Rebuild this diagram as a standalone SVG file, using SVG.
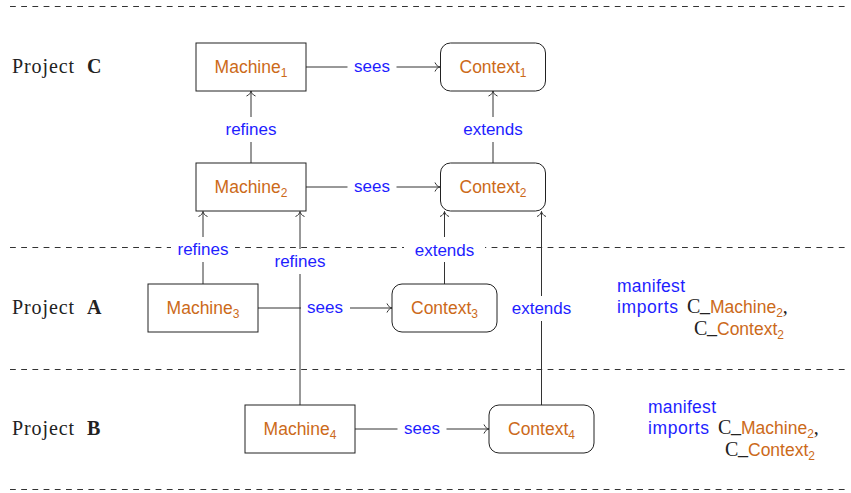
<svg xmlns="http://www.w3.org/2000/svg" width="851" height="493" viewBox="0 0 851 493">
<defs>
<style>
.bg{fill:#fff}
.dash{stroke:#333;stroke-width:1;stroke-dasharray:5.8 5.4;fill:none}
.node{fill:#fff;stroke:#222;stroke-width:1}
.edge{stroke:#333;stroke-width:1;fill:none;marker-end:url(#to)}
.lab{fill:#fff;stroke:none}
.nt{font-family:"Liberation Sans",Arial,sans-serif;font-size:17.5px;fill:#CC6A1A;text-anchor:middle}
.et{font-family:"Liberation Sans",Arial,sans-serif;font-size:17px;fill:#1E1EFF;text-anchor:middle}
.rm{font-family:"Liberation Serif","Times New Roman",serif;font-size:20px;fill:#222}
.bf{font-weight:bold}
.bl{font-family:"Liberation Sans",Arial,sans-serif;font-size:17.5px;fill:#1E1EFF}
.or{font-family:"Liberation Sans",Arial,sans-serif;font-size:17.5px;fill:#CC6A1A}
.sub,.or.sub{font-size:12px}
</style>
<marker id="to" markerUnits="userSpaceOnUse" markerWidth="12" markerHeight="12" viewBox="-6 -6 12 12" refX="0" refY="0" orient="auto">
<path d="M-5,-4.5 C-4,-1.5 -1.5,-0.4 0,0 C-1.5,0.4 -4,1.5 -5,4.5" fill="none" stroke="#333" stroke-width="1"/>
</marker>
</defs>
<rect class="bg" x="0" y="0" width="851" height="493"/>

<g id="separators">
<line class="dash" x1="10" y1="6.5" x2="846" y2="6.5"/>
<line class="dash" x1="10" y1="247.5" x2="846" y2="247.5"/>
<line class="dash" x1="10" y1="369.5" x2="846" y2="369.5"/>
<line class="dash" x1="10" y1="489.5" x2="846" y2="489.5"/>
</g>

<g id="project-labels">
<text class="rm" y="73"><tspan x="12" textLength="62">Project</tspan><tspan class="bf" x="87">C</tspan></text>
<text class="rm" y="314"><tspan x="12" textLength="62">Project</tspan><tspan class="bf" x="87">A</tspan></text>
<text class="rm" y="435"><tspan x="12" textLength="62">Project</tspan><tspan class="bf" x="87">B</tspan></text>
</g>

<g id="connectors">
<line class="edge" x1="306" y1="67" x2="440" y2="67"/>
<line class="edge" x1="306" y1="187" x2="440" y2="187"/>
<line class="edge" x1="251" y1="163" x2="251" y2="91"/>
<line class="edge" x1="493" y1="163" x2="493" y2="91"/>
<line class="edge" x1="203" y1="284" x2="203" y2="211.5"/>
<line class="edge" x1="300" y1="405" x2="300" y2="211.5"/>
<line class="edge" x1="444.5" y1="284" x2="444.5" y2="211.5"/>
<line class="edge" x1="541.5" y1="405" x2="541.5" y2="211.5"/>
<line class="edge" x1="258" y1="308" x2="392" y2="308"/>
<line class="edge" x1="355" y1="429" x2="489" y2="429"/>
<rect class="lab" x="347.5" y="56" width="49" height="22"/>
<text class="et" x="372" y="71.7">sees</text>
<rect class="lab" x="347.5" y="176" width="49" height="22"/>
<text class="et" x="372" y="191.7">sees</text>
<rect class="lab" x="219" y="117" width="64" height="25"/>
<text class="et" x="251" y="135">refines</text>
<rect class="lab" x="171" y="237" width="64" height="25"/>
<text class="et" x="203" y="255">refines</text>
<rect class="lab" x="456.5" y="117" width="73" height="25"/>
<text class="et" x="493" y="135">extends</text>
<rect class="lab" x="268" y="249" width="64" height="25"/>
<text class="et" x="300" y="267">refines</text>
<rect class="lab" x="404" y="237" width="81" height="25"/>
<text class="et" x="444.5" y="256">extends</text>
<rect class="lab" x="505" y="296" width="73" height="25"/>
<text class="et" x="541.5" y="314">extends</text>
<rect class="lab" x="301" y="297" width="49" height="22"/>
<text class="et" x="325" y="312.7">sees</text>
<rect class="lab" x="397.5" y="418" width="49" height="22"/>
<text class="et" x="422" y="433.7">sees</text>
</g>

<g id="Machine1">
<rect class="node" x="196" y="43" width="110" height="48"/>
<text class="nt" x="251" y="73">Machine<tspan class="sub" dy="3.5">1</tspan></text>
</g>
<g id="Context1">
<rect class="node" x="440.5" y="43" width="105" height="48" rx="10"/>
<text class="nt" x="493" y="73">Context<tspan class="sub" dy="3.5">1</tspan></text>
</g>
<g id="Machine2">
<rect class="node" x="196" y="163" width="110" height="48"/>
<text class="nt" x="251" y="193">Machine<tspan class="sub" dy="3.5">2</tspan></text>
</g>
<g id="Context2">
<rect class="node" x="440.5" y="163" width="105" height="48" rx="10"/>
<text class="nt" x="493" y="193">Context<tspan class="sub" dy="3.5">2</tspan></text>
</g>
<g id="Machine3">
<rect class="node" x="148" y="284" width="110" height="48"/>
<text class="nt" x="203" y="314">Machine<tspan class="sub" dy="3.5">3</tspan></text>
</g>
<g id="Context3">
<rect class="node" x="392" y="284" width="105" height="48" rx="10"/>
<text class="nt" x="444.5" y="314">Context<tspan class="sub" dy="3.5">3</tspan></text>
</g>
<g id="Machine4">
<rect class="node" x="245" y="405" width="110" height="48"/>
<text class="nt" x="300" y="435">Machine<tspan class="sub" dy="3.5">4</tspan></text>
</g>
<g id="Context4">
<rect class="node" x="489" y="405" width="105" height="48" rx="10"/>
<text class="nt" x="541.5" y="435">Context<tspan class="sub" dy="3.5">4</tspan></text>
</g>

<g id="manifestA">
<text class="bl" x="617" y="292" textLength="68">manifest</text>
<text class="bl" x="617" y="313" textLength="61">imports</text>
<text y="313"><tspan class="rm" x="687">C</tspan><tspan class="rm" x="700" dy="-2" font-size="13">_</tspan><tspan class="or" x="710" dy="2">Machine</tspan><tspan class="or sub" dy="3.5">2</tspan><tspan class="rm" dy="-3.5">,</tspan></text>
<text y="335"><tspan class="rm" x="694">C</tspan><tspan class="rm" x="707" dy="-2" font-size="13">_</tspan><tspan class="or" x="717" dy="2">Context</tspan><tspan class="or sub" dy="3.5">2</tspan></text>
</g>

<g id="manifestB">
<text class="bl" x="648" y="413" textLength="68">manifest</text>
<text class="bl" x="648" y="434" textLength="61">imports</text>
<text y="434"><tspan class="rm" x="718">C</tspan><tspan class="rm" x="731" dy="-2" font-size="13">_</tspan><tspan class="or" x="741" dy="2">Machine</tspan><tspan class="or sub" dy="3.5">2</tspan><tspan class="rm" dy="-3.5">,</tspan></text>
<text y="456"><tspan class="rm" x="725">C</tspan><tspan class="rm" x="738" dy="-2" font-size="13">_</tspan><tspan class="or" x="748" dy="2">Context</tspan><tspan class="or sub" dy="3.5">2</tspan></text>
</g>
</svg>
